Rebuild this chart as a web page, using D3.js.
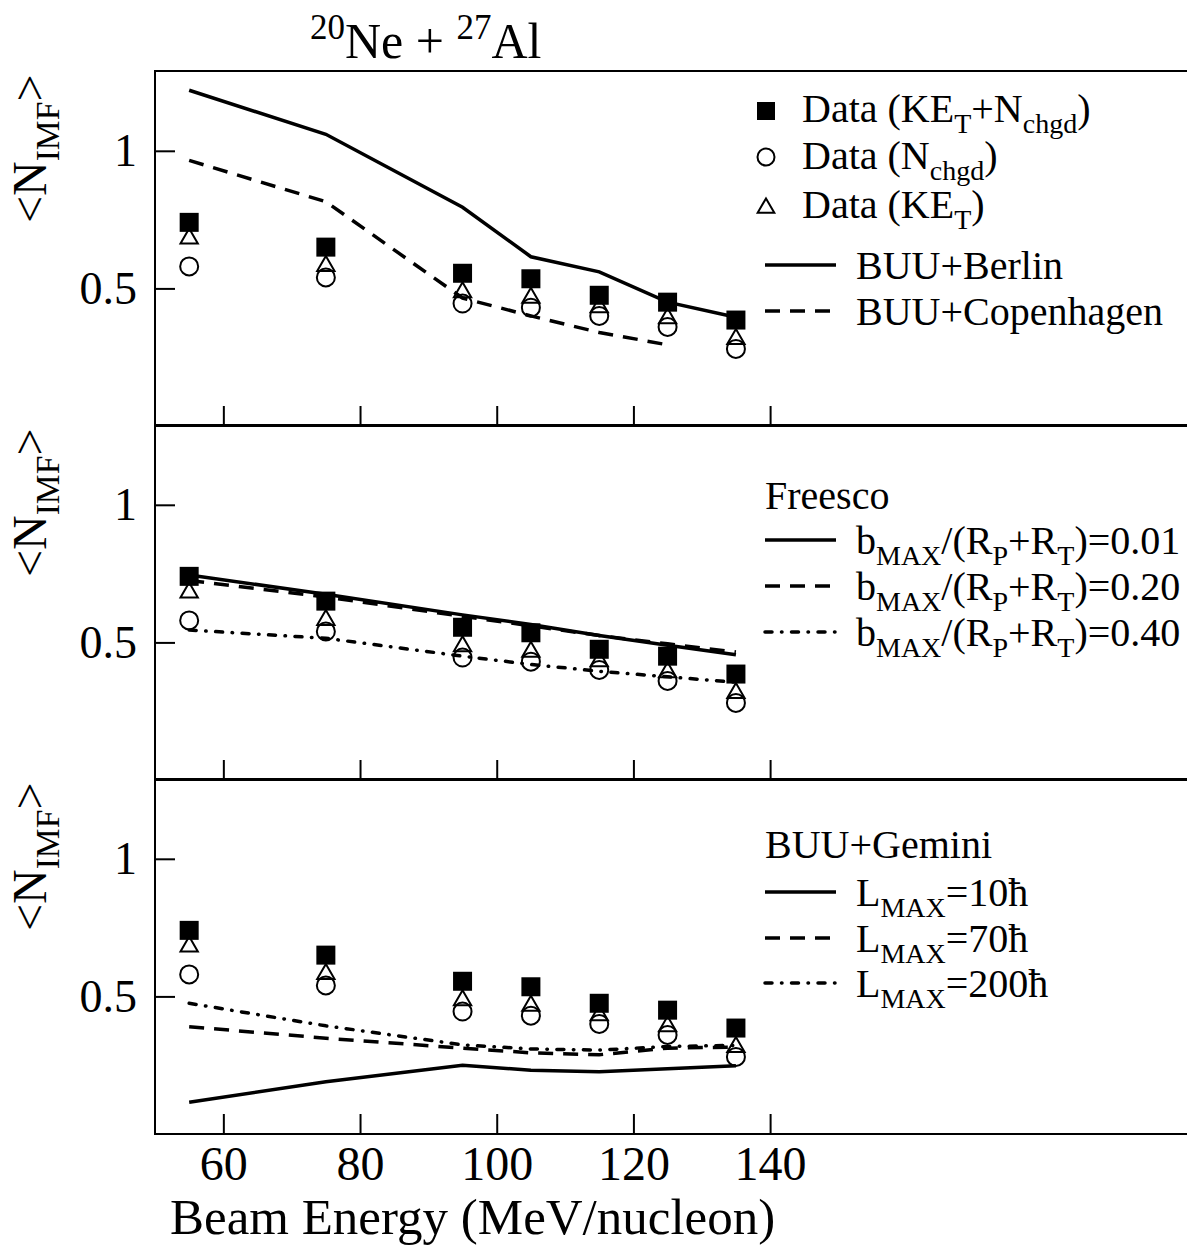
<!DOCTYPE html>
<html>
<head>
<meta charset="utf-8">
<script src="https://cdn.jsdelivr.net/npm/d3@7"></script>
<style>
  body { margin: 0; background: #fff; }
  text { font-family: "Liberation Serif", "DejaVu Serif", serif; fill: #000; }
</style>
</head>
<body>
<div id="chart"></div>
<script>
// beam energies (MeV/nucleon)
const energies = [55, 75, 95, 105, 115, 125, 135];
const xTicks = [60, 80, 100, 120, 140];
const yTicks = [0.5, 1];

// measured <N_IMF>
const dataBoth = [0.74, 0.65, 0.555, 0.535, 0.475, 0.45, 0.385];   // KE_T + N_chgd
const dataNchgd = [0.58, 0.54, 0.445, 0.43, 0.40, 0.36, 0.28];
const dataKET = [0.685, 0.585, 0.49, 0.47, 0.435, 0.395, 0.32];

// BUU + statistical decay models
const berlin = [1.22, 1.06, 0.795, 0.615, 0.56, 0.45, 0.395];
const copenhagenE = [55, 75, 95, 105, 115, 125];
const copenhagen = [0.965, 0.815, 0.465, 0.40, 0.34, 0.295];

// Freesco
const freesco001 = [0.745, 0.675, 0.6, 0.565, 0.525, 0.49, 0.455];
const freesco020 = [0.725, 0.665, 0.595, 0.56, 0.525, 0.495, 0.465];
const freesco040 = [0.545, 0.515, 0.45, 0.42, 0.395, 0.375, 0.355];

// BUU + Gemini
const gemini10 = [0.115, 0.19, 0.25, 0.232, 0.226, 0.237, 0.248];
const gemini70 = [0.39, 0.348, 0.312, 0.295, 0.288, 0.312, 0.316];
const gemini200 = [0.475, 0.393, 0.324, 0.309, 0.305, 0.318, 0.322];

const W = 1187, H = 1246;
const left = 155, right = 1187;
const panelTops = [71, 425, 779];
const panelH = 355;

const svg = d3.select('#chart').append('svg')
  .attr('width', W)
  .attr('height', H)
  .style('background', '#fff');

const x = d3.scaleLinear().domain([50, 201]).range([left, right]);

// line styles
function applyStyle(sel, style) {
  if (style === 'dashed') sel.attr('stroke-dasharray', '15,10');
  if (style === 'dashdot') sel.attr('stroke-dasharray', '7,9.5,0.5,9.5').attr('stroke-linecap', 'round');
  return sel;
}

// write text with sub/superscript pieces: [['Data (KE'], ['T', 'sub'], ...]
function richText(sel, parts, size) {
  const t = sel.append('text').style('font-size', size + 'px');
  let shift = 0;
  parts.forEach(([s, kind]) => {
    const target = kind === 'sub' ? size * 0.27 : kind === 'sup' ? -size * 0.38 : 0;
    t.append('tspan')
      .attr('dy', target - shift)
      .style('font-size', kind ? (size * 0.7) + 'px' : null)
      .text(s);
    shift = target;
  });
  return t;
}

function drawPanel(i, lines, legend) {
  const top = panelTops[i];
  const y = d3.scaleLinear().domain([0, 1.29]).range([top + panelH, top]);
  const g = svg.append('g');

  // frame
  g.append('path')
    .attr('d', `M${right},${top}H${left}V${top + panelH}H${right}`)
    .attr('fill', 'none')
    .attr('stroke', '#000')
    .attr('stroke-width', 2);

  // axes with inward ticks
  const xa = g.append('g')
    .attr('transform', `translate(0,${top + panelH})`)
    .call(d3.axisBottom(x).tickValues(xTicks).tickSize(-20).tickPadding(12)
      .tickFormat(i === 2 ? d3.format('d') : () => ''));
  xa.select('.domain').remove();
  xa.selectAll('line').attr('stroke-width', 2);
  xa.selectAll('text').style('font-size', '48px').style('font-family', '"Liberation Serif", serif');

  const ya = g.append('g')
    .attr('transform', `translate(${left},0)`)
    .call(d3.axisLeft(y).tickValues(yTicks).tickSize(-20).tickPadding(18)
      .tickFormat(d => d === 1 ? '1' : d));
  ya.select('.domain').remove();
  ya.selectAll('line').attr('stroke-width', 2);
  ya.selectAll('text').style('font-size', '46px').style('font-family', '"Liberation Serif", serif');

  // y label
  richText(g, [['<N'], ['IMF', 'sub'], ['>']], 48)
    .attr('text-anchor', 'middle')
    .attr('transform', `translate(46,${y(1) - 2}) rotate(-90)`);

  // model curves
  lines.forEach(l => {
    const xs = l.x || energies;
    const p = g.append('path')
      .datum(l.values.map((v, k) => [xs[k], v]))
      .attr('d', d3.line().x(d => x(d[0])).y(d => y(d[1])))
      .attr('fill', 'none')
      .attr('stroke', '#000')
      .attr('stroke-width', 3.5);
    applyStyle(p, l.style);
  });

  // data points
  const pts = energies.map((e, k) => ({ e, both: dataBoth[k], n: dataNchgd[k], ke: dataKET[k] }));
  g.selectAll('.tri').data(pts).enter().append('path')
    .attr('d', d3.symbol(d3.symbolTriangle, 130))
    .attr('transform', d => `translate(${x(d.e)},${y(d.ke) + 1})`)
    .attr('fill', 'none').attr('stroke', '#000').attr('stroke-width', 2);
  g.selectAll('.circ').data(pts).enter().append('circle')
    .attr('cx', d => x(d.e)).attr('cy', d => y(d.n)).attr('r', 9)
    .attr('fill', 'none').attr('stroke', '#000').attr('stroke-width', 2);
  g.selectAll('.sq').data(pts).enter().append('rect')
    .attr('x', d => x(d.e) - 9.5).attr('y', d => y(d.both) - 9.5)
    .attr('width', 19).attr('height', 19).attr('fill', '#000');

  legend(g);
}

function legendLine(g, yPos, style, parts) {
  const l = g.append('line')
    .attr('x1', 765).attr('x2', 836).attr('y1', yPos).attr('y2', yPos)
    .attr('stroke', '#000').attr('stroke-width', 3.5);
  applyStyle(l, style);
  richText(g, parts, 40).attr('x', 856).attr('y', yPos + 14);
}

// top panel: BUU+Berlin / Copenhagen
drawPanel(0, [
  { values: berlin, style: 'solid' },
  { values: copenhagen, x: copenhagenE, style: 'dashed' }
], g => {
  g.append('rect').attr('x', 757).attr('y', 102).attr('width', 18).attr('height', 18).attr('fill', '#000');
  richText(g, [['Data (KE'], ['T', 'sub'], ['+N'], ['chgd', 'sub'], [')']], 40).attr('x', 802).attr('y', 122);
  g.append('circle').attr('cx', 766).attr('cy', 157).attr('r', 8.5)
    .attr('fill', 'none').attr('stroke', '#000').attr('stroke-width', 2);
  richText(g, [['Data (N'], ['chgd', 'sub'], [')']], 40).attr('x', 802).attr('y', 169);
  g.append('path').attr('d', d3.symbol(d3.symbolTriangle, 120))
    .attr('transform', 'translate(766,208)')
    .attr('fill', 'none').attr('stroke', '#000').attr('stroke-width', 2);
  richText(g, [['Data (KE'], ['T', 'sub'], [')']], 40).attr('x', 802).attr('y', 218);
  legendLine(g, 265, 'solid', [['BUU+Berlin']]);
  legendLine(g, 311, 'dashed', [['BUU+Copenhagen']]);
});

// middle panel: Freesco
drawPanel(1, [
  { values: freesco001, style: 'solid' },
  { values: freesco020, style: 'dashed' },
  { values: freesco040, style: 'dashdot' }
], g => {
  richText(g, [['Freesco']], 40).attr('x', 765).attr('y', 509);
  legendLine(g, 540, 'solid', [['b'], ['MAX', 'sub'], ['/(R'], ['P', 'sub'], ['+R'], ['T', 'sub'], [')=0.01']]);
  legendLine(g, 586, 'dashed', [['b'], ['MAX', 'sub'], ['/(R'], ['P', 'sub'], ['+R'], ['T', 'sub'], [')=0.20']]);
  legendLine(g, 632, 'dashdot', [['b'], ['MAX', 'sub'], ['/(R'], ['P', 'sub'], ['+R'], ['T', 'sub'], [')=0.40']]);
});

// bottom panel: BUU+Gemini
drawPanel(2, [
  { values: gemini10, style: 'solid' },
  { values: gemini70, style: 'dashed' },
  { values: gemini200, style: 'dashdot' }
], g => {
  richText(g, [['BUU+Gemini']], 40).attr('x', 765).attr('y', 858);
  legendLine(g, 892, 'solid', [['L'], ['MAX', 'sub'], ['=10ħ']]);
  legendLine(g, 938, 'dashed', [['L'], ['MAX', 'sub'], ['=70ħ']]);
  legendLine(g, 983, 'dashdot', [['L'], ['MAX', 'sub'], ['=200ħ']]);
});

// x axis title
svg.append('text')
  .attr('x', 170).attr('y', 1234)
  .style('font-size', '51px')
  .text('Beam Energy (MeV/nucleon)');

// reaction title
richText(svg, [['20', 'sup'], ['Ne + '], ['27', 'sup'], ['Al']], 50).attr('x', 310).attr('y', 58);
</script>
</body>
</html>
